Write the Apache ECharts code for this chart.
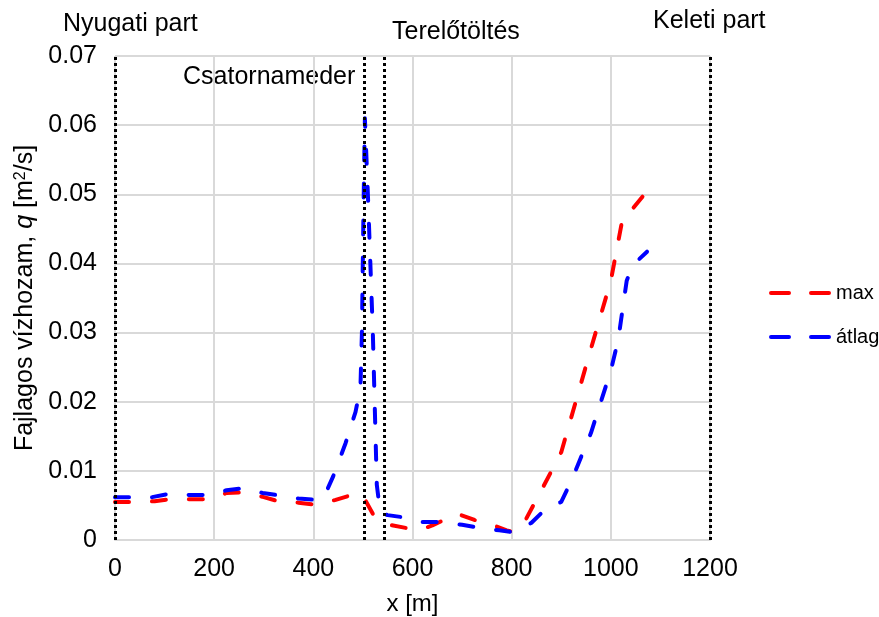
<!DOCTYPE html>
<html>
<head>
<meta charset="utf-8">
<script src="https://cdn.jsdelivr.net/npm/echarts@6/dist/echarts.min.js"></script>
<style>
  html, body { margin: 0; padding: 0; background: #fff; }
  #chart { width: 879px; height: 617px; }
</style>
</head>
<body>
<div id="chart"></div>
<script>
// max (red)
const xMax = [0, 40, 80, 110, 150, 190, 225, 258, 300, 335, 370, 405, 445, 490, 503, 520, 545, 590, 612, 640, 690, 725, 760, 790, 805, 825, 860, 900, 960, 1000, 1025, 1045, 1070];
const qMax = [0.0055, 0.0055, 0.0056, 0.0059, 0.0059, 0.0059, 0.0068, 0.0069, 0.0062, 0.0055, 0.0054, 0.0051, 0.0058, 0.0068, 0.0060, 0.0038, 0.0023, 0.0017, 0.0014, 0.0021, 0.0038, 0.0029, 0.0022, 0.0014, 0.0011, 0.0025, 0.0072, 0.0127, 0.0277, 0.0375, 0.047, 0.048, 0.0502];

// átlag (blue)
const xAvg = [0, 40, 75, 110, 150, 190, 225, 258, 298, 335, 370, 405, 420, 440, 465, 485, 495, 498, 501, 504, 510, 520, 528, 535, 550, 590, 620, 660, 700, 740, 775, 805, 815, 840, 870, 900, 920, 960, 1000, 1015, 1032, 1045, 1073];
const qAvg = [0.0062, 0.0062, 0.0062, 0.0067, 0.0065, 0.0065, 0.0072, 0.0075, 0.0068, 0.0064, 0.006, 0.0058, 0.006, 0.0092, 0.014, 0.0185, 0.022, 0.030, 0.047, 0.061, 0.05, 0.030, 0.008, 0.0039, 0.0036, 0.0032, 0.0026, 0.0026, 0.0022, 0.0017, 0.0014, 0.0011, 0.0013, 0.0025, 0.0046, 0.0055, 0.0085, 0.0155, 0.0245, 0.029, 0.0375, 0.0398, 0.0417];

// szakaszhatárok (dotted verticals)
const boundaries = [0, 503, 543, 1200];

const zones = [
    { text: 'Nyugati part', x: 63, y: 25 },
    { text: 'Csatornameder', x: 183, y: 78 },
    { text: 'Terelőtöltés', x: 392, y: 33 },
    { text: 'Keleti part', x: 653, y: 22 }
];

const font = '"Liberation Sans", Arial, sans-serif';
const dash = [14, 23];
// two dashes as legend icon
const legendIcon = 'path://M2,0h18a2,2 0 0 1 0,4h-18a2,2 0 0 1 0,-4z M42,0h18a2,2 0 0 1 0,4h-18a2,2 0 0 1 0,-4z';

const chart = echarts.init(document.getElementById('chart'), null, { renderer: 'canvas' });

const option = {
    animation: false,
    textStyle: { fontFamily: font },
    grid: { left: 115, right: 169, top: 56, bottom: 77, outerBoundsMode: 'none', containLabel: false },
    legend: {
        orient: 'vertical',
        left: 769,
        top: 283,
        padding: 0,
        itemWidth: 62,
        itemHeight: 5,
        itemGap: 24,
        icon: legendIcon,
        textStyle: { fontSize: 20, color: '#000', fontFamily: font },
        data: ['max', 'átlag']
    },
    xAxis: {
        type: 'value',
        min: 0,
        max: 1200,
        interval: 200,
        name: 'x [m]',
        nameLocation: 'middle',
        nameGap: 52,
        nameTextStyle: { fontSize: 24, color: '#000', fontFamily: font },
        axisLine: { show: true, lineStyle: { color: '#d9d9d9', width: 2 } },
        axisTick: { show: false },
        axisLabel: { fontSize: 25, color: '#000', margin: 17, formatter: v => String(v) },
        splitLine: { show: true, lineStyle: { color: '#d9d9d9', width: 2 } }
    },
    yAxis: {
        type: 'value',
        min: 0,
        max: 0.07,
        interval: 0.01,
        name: '{a|Fajlagos vízhozam, }{i|q}{a| [m}{s|2}{a|/s]}',
        nameLocation: 'middle',
        nameGap: 74,
        nameTextStyle: {
            rich: {
                a: { fontSize: 25, color: '#000', fontFamily: font },
                i: { fontSize: 25, color: '#000', fontFamily: font, fontStyle: 'italic' },
                s: { fontSize: 16, color: '#000', fontFamily: font, verticalAlign: 'top', padding: [0, 0, 6, 0] }
            }
        },
        axisLine: { show: false },
        axisTick: { show: false },
        axisLabel: {
            fontSize: 25,
            color: '#000',
            margin: 18,
            formatter: v => (v === 0 ? '0' : v.toFixed(2))
        },
        splitLine: { show: true, lineStyle: { color: '#d9d9d9', width: 2 } }
    },
    graphic: zones.map(z => ({
        type: 'text',
        left: z.x,
        top: z.y - 13,
        style: { text: z.text, fontSize: 25, fill: '#000', fontFamily: font }
    })),
    series: [
        {
            name: 'max',
            type: 'line',
            symbol: 'none',
            data: xMax.map((x, i) => [x, qMax[i]]),
            lineStyle: { color: '#ff0000', width: 4, type: dash, cap: 'round', join: 'round' },
            itemStyle: { color: '#ff0000' },
            z: 3
        },
        {
            name: 'átlag',
            type: 'line',
            symbol: 'none',
            data: xAvg.map((x, i) => [x, qAvg[i]]),
            lineStyle: { color: '#0000ff', width: 4, type: dash, cap: 'round', join: 'round' },
            itemStyle: { color: '#0000ff' },
            z: 4,
            markLine: {
                silent: true,
                symbol: 'none',
                label: { show: false },
                lineStyle: { color: '#000', width: 3, type: [3, 3] },
                data: boundaries.map(b => ({ xAxis: b }))
            }
        }
    ]
};

chart.setOption(option);
</script>
</body>
</html>
